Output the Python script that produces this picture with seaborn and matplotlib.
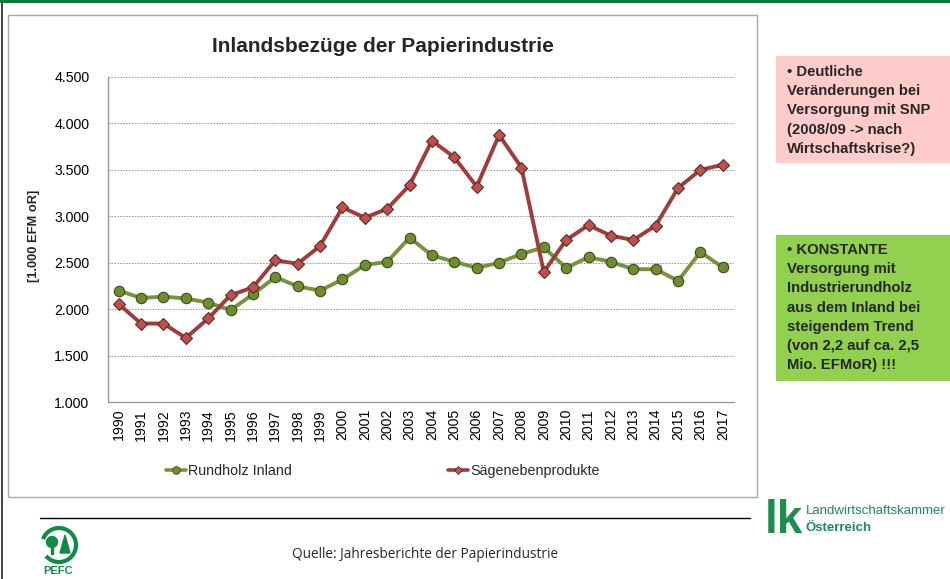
import numpy as np
import pandas as pd
import matplotlib
matplotlib.use("Agg")
import matplotlib.pyplot as plt
import seaborn as sns
from matplotlib.patches import Rectangle, Circle, Polygon, Arc
from matplotlib.lines import Line2D
from matplotlib.ticker import FuncFormatter

years = list(range(1990, 2018))
rundholz = [2200, 2120, 2135, 2115, 2070, 1990, 2160, 2345, 2245, 2200,
            2320, 2475, 2510, 2770, 2580, 2510, 2445, 2500, 2595, 2665,
            2445, 2560, 2510, 2430, 2430, 2305, 2615, 2450]
saege = [2055, 1845, 1845, 1690, 1900, 2150, 2235, 2525, 2490, 2680,
         3095, 2985, 3080, 3335, 3815, 3635, 3320, 3875, 3525, 2400,
         2745, 2905, 2790, 2745, 2900, 3305, 3500, 3555]
series_names = ["Rundholz Inland", "Sägenebenprodukte"]
yticks = [1000, 1500, 2000, 2500, 3000, 3500, 4000, 4500]

title = "Inlandsbezüge der Papierindustrie"
ylabel = "[1.000 EFM oR]"
note_red = "• Deutliche\nVeränderungen bei\nVersorgung mit SNP\n(2008/09 -> nach\nWirtschaftskrise?)"
note_green = ("• KONSTANTE\nVersorgung mit\nIndustrierundholz\naus dem Inland bei\n"
              "steigendem Trend\n(von 2,2 auf ca. 2,5\nMio. EFMoR) !!!")
source = "Quelle: Jahresberichte der Papierindustrie"

df = pd.DataFrame({"Jahr": years + years,
                   "Wert": rundholz + saege,
                   "Serie": [series_names[0]] * len(years) + [series_names[1]] * len(years)})

sns.set_style("white")
plt.rcParams['font.family'] = ['Liberation Sans', 'DejaVu Sans']

W, H = 950, 579
fig = plt.figure(figsize=(W / 100, H / 100), dpi=100)
fig.patch.set_facecolor("white")

def fx(x):
    return x / W

def fy(y):
    return 1 - y / H

# top green bar and left line
fig.add_artist(Rectangle((0, fy(3)), 1, 3 / H, transform=fig.transFigure,
                         facecolor="#0b7a3e", edgecolor="none", zorder=-2))
fig.add_artist(Line2D([fx(1.5), fx(1.5)], [fy(3), 0], transform=fig.transFigure,
                      color="#222222", lw=1.2, zorder=-2))
# chart frame
fig.add_artist(Rectangle((fx(7.5), fy(497)), (756.5 - 7.5) / W, (497 - 14.5) / H,
                         transform=fig.transFigure, facecolor="white",
                         edgecolor="#a6a6a6", lw=1.0, zorder=-1))

ax = fig.add_axes([fx(107.5), fy(402), (734 - 107.5) / W, (402 - 77) / H])
ax.set_facecolor("none")

green_line = "#77933c"
green_face = "#6e8e2e"
red_line = "#a03c3a"
red_face = "#c0504d"

sns.lineplot(data=df[df.Serie == series_names[0]], x="Jahr", y="Wert", ax=ax,
             color=green_line, lw=2.8, marker="o", markersize=7.5,
             markerfacecolor=green_face, markeredgecolor="#3b4a1e",
             markeredgewidth=0.8, legend=False, zorder=3)
sns.lineplot(data=df[df.Serie == series_names[1]], x="Jahr", y="Wert", ax=ax,
             color=red_line, lw=2.8, marker="D", markersize=6.5,
             markerfacecolor=red_face, markeredgecolor="#5a2a28",
             markeredgewidth=0.8, legend=False, zorder=4)

ax.set_xlim(1989.5, 2017.5)
ax.set_ylim(1000, 4500)
ax.set_yticks(yticks)
ax.yaxis.set_major_formatter(FuncFormatter(lambda v, p: f"{int(v):,}".replace(",", ".")))
ax.set_xticks(years)
ax.set_xticklabels([str(y) for y in years], rotation=90)
ax.tick_params(axis="both", labelsize=10.2, length=0, colors="black")
ax.tick_params(axis="y", pad=13)
ax.tick_params(axis="x", pad=5)
ax.grid(axis="y", color="#8c8c8c", linestyle=(0, (2, 1.5)), lw=0.6)
ax.grid(axis="x", visible=False)
for s in ["top", "right"]:
    ax.spines[s].set_visible(False)
for s in ["left", "bottom"]:
    ax.spines[s].set_color("#9a9a9a")
    ax.spines[s].set_linewidth(1.0)
ax.set_xlabel("")
ax.set_ylabel("")

fig.text(fx(34), fy(236), ylabel, rotation=90, ha="center", va="center",
         fontsize=9.3, fontweight="bold")
fig.text(fx(383), fy(46), title, ha="center", va="center", fontsize=15,
         fontweight="bold")

# legends
h1 = Line2D([], [], color=green_line, lw=2.6, marker="o", markersize=5.5,
            markerfacecolor=green_face, markeredgecolor="#3b4a1e", markeredgewidth=0.6)
h2 = Line2D([], [], color=red_line, lw=2.6, marker="D", markersize=4.5,
            markerfacecolor=red_face, markeredgecolor="#5a2a28", markeredgewidth=0.6)
for h, lab, xp in [(h1, series_names[0], 166), (h2, series_names[1], 448)]:
    fig.legend([h], [lab], loc="center left", bbox_to_anchor=(fx(xp), fy(471)),
               frameon=False, fontsize=10.3, handlelength=1.4, handletextpad=0.15,
               borderpad=0, borderaxespad=0)

# right note boxes
fig.add_artist(Rectangle((fx(776), fy(163)), (950 - 776) / W, (163 - 56) / H,
                         transform=fig.transFigure, facecolor="#ffcccc", edgecolor="none",
                         zorder=-1))
fig.text(fx(787), fy(65), note_red, ha="left", va="top", fontsize=10.7,
         fontweight="bold", linespacing=1.47)
fig.add_artist(Rectangle((fx(776), fy(381)), (950 - 776) / W, (381 - 235) / H,
                         transform=fig.transFigure, facecolor="#92d050", edgecolor="none",
                         zorder=-1))
fig.text(fx(787), fy(243), note_green, ha="left", va="top", fontsize=10.7,
         fontweight="bold", linespacing=1.47)

# footer line and source
fig.add_artist(Line2D([fx(40), fx(750)], [fy(518), fy(518)], transform=fig.transFigure,
                      color="black", lw=1.0))
fig.text(fx(425), fy(555), source, ha="center", va="center", fontsize=9.8,
         family=["Open Sans", "DejaVu Sans"])

# PEFC logo (approximation)
pefc_green = "#138a43"
lax = fig.add_axes([fx(38), fy(580), 46 / W, 55 / H])
lax.set_xlim(0, 46)
lax.set_ylim(55, 0)
lax.axis("off")
lax.add_patch(Arc((21, 20), 34, 34, theta1=200, theta2=140, color=pefc_green, lw=3))
lax.add_patch(Circle((14, 17), 5.5, color=pefc_green))
lax.add_patch(Rectangle((13, 20), 2, 9, color=pefc_green))
lax.add_patch(Polygon([[22, 28], [32, 28], [27, 10]], closed=True, color=pefc_green))
lax.text(20, 46, "PEFC", ha="center", va="center", fontsize=8, fontweight="bold",
         color=pefc_green)

# Landwirtschaftskammer logo (approximation)
lk_green = "#1e8c4e"
fig.text(fx(765), fy(533), "lk", ha="left", va="baseline", fontsize=33, fontweight="bold",
         color=lk_green)
fig.text(fx(806), fy(514), "Landwirtschaftskammer", ha="left", va="baseline",
         fontsize=9.5, color=lk_green)
fig.text(fx(806), fy(531), "Österreich", ha="left", va="baseline",
         fontsize=9.5, fontweight="bold", color=lk_green)

fig.savefig("out.png", dpi=100)
